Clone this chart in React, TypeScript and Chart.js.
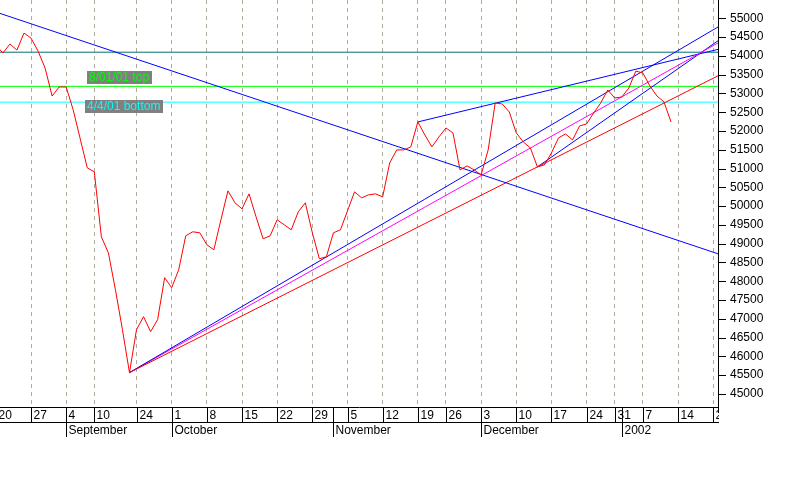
import React, { useEffect, useRef } from 'react';
import { Chart, registerables } from 'chart.js';

Chart.register(...registerables);

// ---- data ----
const tradingDates: string[] = [
  '2001-08-20', '2001-08-21', '2001-08-22', '2001-08-23', '2001-08-24',
  '2001-08-27', '2001-08-28', '2001-08-29', '2001-08-30', '2001-08-31',
  '2001-09-04', '2001-09-05', '2001-09-06', '2001-09-07', '2001-09-10',
  '2001-09-17', '2001-09-18', '2001-09-19', '2001-09-20', '2001-09-21',
  '2001-09-24', '2001-09-25', '2001-09-26', '2001-09-27', '2001-09-28',
  '2001-10-01', '2001-10-02', '2001-10-03', '2001-10-04', '2001-10-05',
  '2001-10-08', '2001-10-09', '2001-10-10', '2001-10-11', '2001-10-12',
  '2001-10-15', '2001-10-16', '2001-10-17', '2001-10-18', '2001-10-19',
  '2001-10-22', '2001-10-23', '2001-10-24', '2001-10-25', '2001-10-26',
  '2001-10-29', '2001-10-30', '2001-10-31', '2001-11-01', '2001-11-02',
  '2001-11-05', '2001-11-06', '2001-11-07', '2001-11-08', '2001-11-09',
  '2001-11-12', '2001-11-13', '2001-11-14', '2001-11-15', '2001-11-16',
  '2001-11-19', '2001-11-20', '2001-11-21', '2001-11-23',
  '2001-11-26', '2001-11-27', '2001-11-28', '2001-11-29', '2001-11-30',
  '2001-12-03', '2001-12-04', '2001-12-05', '2001-12-06', '2001-12-07',
  '2001-12-10', '2001-12-11', '2001-12-12', '2001-12-13', '2001-12-14',
  '2001-12-17', '2001-12-18', '2001-12-19', '2001-12-20', '2001-12-21',
  '2001-12-24', '2001-12-26', '2001-12-27', '2001-12-28',
  '2001-12-31', '2002-01-02', '2002-01-03', '2002-01-04',
  '2002-01-07', '2002-01-08', '2002-01-09', '2002-01-10', '2002-01-11',
  '2002-01-14', '2002-01-15', '2002-01-16', '2002-01-17', '2002-01-18',
  '2002-01-22',
];

const closeValues: number[] = [
  54290, 54077, 54316, 54157, 54609,
  54476, 54130, 53678, 52933, 53173,
  53173, 52561, 51790, 51019, 50912,
  49183, 48758, 47774, 46710, 45566,
  46710, 47056, 46657, 46976, 48093,
  47827, 48306, 49210, 49316, 49290,
  48971, 48838, 49636, 50407, 50088,
  49928, 50327, 49715, 49130, 49210,
  49636, 49503, 49370, 49848, 50088,
  49290, 48598, 48652, 49290, 49370,
  49875, 50380, 50221, 50300, 50327,
  50247, 51152, 51497, 51497, 51577,
  52242, 51896, 51577, 51843,
  52082, 51949, 50965, 51072, 50965,
  50832, 51497, 52747, 52721, 52508,
  51949, 51710, 51551, 51045, 51098,
  51418, 51816, 51923, 51763, 52136,
  52189, 52481, 52747, 53093,
  52880, 52907, 53146, 53598,
  53545, 53199, 52933, 52774, 52242,
];

// trend lines: [trading-day index, value]
const downTrendLine: number[][] = [[0, 55170], [103, 48710]];
const redSupportLine: number[][] = [[19, 45566], [103, 53501]];
const blueSupportLine: number[][] = [[19, 45566], [103, 54806]];
const magentaSupportLine: number[][] = [[19, 45566], [103, 54380]];
const blueUpperChannel: number[][] = [[60, 52242], [103, 54190]];
const blueDecemberLine: number[][] = [[77, 51045], [103, 54446]];

// horizontal levels
const levelValues: number[] = [54100, 53190, 52770];
const levelNames: string[] = ['', '8/01/01 top', '4/4/01 bottom'];

const monthNames = ['January', 'February', 'March', 'April', 'May', 'June', 'July',
  'August', 'September', 'October', 'November', 'December'];

// ---- styles / layout ----
const FONT = "'Liberation Sans', Arial, sans-serif";
const X_MIN = 0.59;
const X_MAX = 102.68;
const Y_MIN = 44650;
const Y_MAX = 55490;
const levelColors = ['#007070', '#00ff00', '#00ffff'];
const labelAnchors = [
  { level: 1, index: 12.96, above: true },
  { level: 2, index: 12.68, above: false },
];

const parsed = tradingDates.map((s) => {
  const [y, m, d] = s.split('-').map(Number);
  return { y, m, d, dow: new Date(Date.UTC(y, m - 1, d)).getUTCDay() };
});

const weekStarts: number[] = [];
parsed.forEach((p, i) => {
  if (i === 0 || p.dow < parsed[i - 1].dow) {
    const last = weekStarts[weekStarts.length - 1];
    if (last === undefined || i - last >= 2) weekStarts.push(i);
  }
});
const monthStarts: number[] = [];
parsed.forEach((p, i) => {
  if (i > 0 && p.m !== parsed[i - 1].m) monthStarts.push(i);
});

const toPts = (arr: number[][]) => arr.map(([x, y]) => ({ x, y }));

const axisPlugin = {
  id: 'customAxes',
  afterDatasetsDraw(chart: any) {
    const { ctx, scales } = chart;
    const xs = scales.x;
    const ys = scales.y;
    ctx.save();
    ctx.font = `12px ${FONT}`;
    labelAnchors.forEach((a) => {
      const text = levelNames[a.level];
      const x = Math.round(xs.getPixelForValue(a.index));
      const yl = Math.round(ys.getPixelForValue(levelValues[a.level]));
      const w = Math.ceil(ctx.measureText(text).width) + 4;
      const h = 13;
      const top = a.above ? yl - 2 - h : yl - 2;
      ctx.fillStyle = '#808080';
      ctx.fillRect(x, top, w, h);
      ctx.fillStyle = levelColors[a.level];
      ctx.textBaseline = 'middle';
      ctx.textAlign = 'left';
      ctx.fillText(text, x + 2, top + h / 2 + 0.5);
    });
    ctx.restore();
  },
  afterDraw(chart: any) {
    const { ctx, chartArea, scales } = chart;
    const xs = scales.x;
    const ys = scales.y;
    const L = chartArea.left;
    const R = chartArea.right;
    const T = chartArea.top;
    const B = chartArea.bottom;
    ctx.save();
    ctx.strokeStyle = '#000';
    ctx.lineWidth = 1;
    const line = (x1: number, y1: number, x2: number, y2: number) => {
      ctx.beginPath();
      ctx.moveTo(x1, y1);
      ctx.lineTo(x2, y2);
      ctx.stroke();
    };
    // y axis line and ticks
    line(R + 0.5, T, R + 0.5, B + 6);
    ys.ticks.forEach((t: any) => {
      const v = Math.round(t.value);
      if (Math.abs(t.value - v) > 1e-6 || v % 100 !== 0) return;
      const y = Math.round(ys.getPixelForValue(v)) + 0.5;
      line(R, y, R + (v % 500 === 0 ? 8 : 4), y);
    });
    // x axis rows
    ctx.beginPath();
    ctx.rect(L, B, R - L + 1, 40);
    ctx.clip();
    line(L, B + 0.5, R + 1, B + 0.5);
    line(L, B + 15.5, R + 1, B + 15.5);
    ctx.fillStyle = '#000';
    ctx.font = `12px ${FONT}`;
    ctx.textBaseline = 'middle';
    ctx.textAlign = 'left';
    weekStarts.forEach((i) => {
      const x = Math.round(xs.getPixelForValue(i)) + 0.5;
      line(x, B, x, B + 15);
      ctx.fillText(String(parsed[i].d), x + 2, B + 8.5);
    });
    monthStarts.forEach((i) => {
      const x = Math.round(xs.getPixelForValue(i)) + 0.5;
      line(x, B, x, B + 30);
      const p = parsed[i];
      const label = p.m === 1 ? String(p.y) : monthNames[p.m - 1];
      ctx.fillText(label, x + 2, B + 23.5);
    });
    ctx.restore();
  },
};

export default function App() {
  const ref = useRef<HTMLCanvasElement>(null);
  useEffect(() => {
    const lineDs = (data: any[], color: string) => ({
      data,
      borderColor: color,
      borderWidth: 1,
      pointRadius: 0,
      tension: 0,
      fill: false,
    });
    const datasets: any[] = [
      lineDs(closeValues.map((v, i) => ({ x: i, y: v })), '#ff0000'),
      lineDs(toPts(downTrendLine), '#0000ff'),
      lineDs(toPts(redSupportLine), '#ff0000'),
      lineDs(toPts(blueSupportLine), '#0000ff'),
      lineDs(toPts(magentaSupportLine), '#ff00ff'),
      lineDs(toPts(blueUpperChannel), '#0000ff'),
      lineDs(toPts(blueDecemberLine), '#0000ff'),
      ...levelValues.map((v, k) => lineDs([{ x: 0, y: v }, { x: 103, y: v }], levelColors[k])),
    ];
    const chart = new Chart(ref.current as HTMLCanvasElement, {
      type: 'line',
      data: { datasets },
      options: {
        animation: false,
        responsive: false,
        events: [],
        layout: { padding: 0 },
        plugins: { legend: { display: false }, tooltip: { enabled: false }, title: { display: false } },
        scales: {
          x: {
            type: 'linear',
            min: X_MIN,
            max: X_MAX,
            afterFit: (s: any) => { s.height = 93; s.paddingLeft = 0; s.paddingRight = 0; },
            afterBuildTicks: (s: any) => { s.ticks = weekStarts.map((v) => ({ value: v })); },
            ticks: { display: false },
            grid: { display: true, drawOnChartArea: true, drawTicks: false, color: '#b0ab9c', lineWidth: 1 },
            border: { display: false, dash: [4, 4] },
          },
          y: {
            type: 'linear',
            position: 'right',
            min: Y_MIN,
            max: Y_MAX,
            afterFit: (s: any) => { s.width = 82; s.paddingTop = 0; s.paddingBottom = 0; },
            ticks: {
              stepSize: 100,
              autoSkip: false,
              padding: 0,
              color: '#000',
              font: { family: FONT, size: 12 },
              callback: (v: any) => {
                const r = Math.round(Number(v));
                return Math.abs(Number(v) - r) < 1e-6 && r % 500 === 0 ? String(r) : null;
              },
            },
            grid: { display: true, drawOnChartArea: false, drawTicks: true, tickLength: 12, color: 'rgba(0,0,0,0)' },
            border: { display: false },
          },
        },
      } as any,
      plugins: [axisPlugin],
    });
    return () => chart.destroy();
  }, []);
  return (
    <div style={{ position: 'fixed', left: 0, top: 0, width: 800, height: 500, background: '#fff' }}>
      <canvas ref={ref} width={800} height={500} style={{ display: 'block' }} />
    </div>
  );
}
